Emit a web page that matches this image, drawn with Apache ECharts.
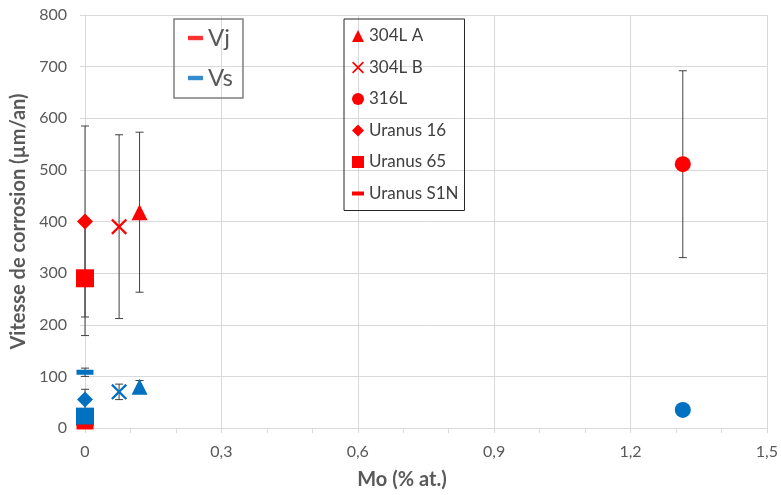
<!DOCTYPE html>
<html>
<head>
<meta charset="utf-8">
<script src="https://cdn.jsdelivr.net/npm/echarts@6/dist/echarts.min.js"></script>
<style>
html,body{margin:0;padding:0;background:#fff;}
#chart{width:781px;height:495px;}
</style>
</head>
<body>
<div id="chart"></div>
<script>
// ---- data ----
const materials = ['304L A', '304L B', '316L', 'Uranus 16', 'Uranus 65', 'Uranus S1N'];
const moContent = [0.12, 0.075, 1.315, 0, 0, 0];
const vj = [418, 390, 511, 400, 290, 2];
const vjErr = [155, 178, 181, 185, 111, 0];
const vs = [80, 70, 35, 55, 22, 108];
const vsErr = [12, 15, 0, 20, 5, 8];
const xTicks = [0, 0.3, 0.6, 0.9, 1.2, 1.5];
const yTicks = [0, 100, 200, 300, 400, 500, 600, 700, 800];

// ---- styles ----
const RED = '#FF0000', BLUE = '#0070C0';
const XPATH = 'path://M0,1.6L1.6,0L8,6.4L14.4,0L16,1.6L9.6,8L16,14.4L14.4,16L8,9.6L1.6,16L0,14.4L6.4,8Z';
const DASH = 'path://M0,0L17,0L17,5L0,5Z';
const symbols = ['triangle', XPATH, 'circle', 'diamond', 'rect', 'rect'];
const sizes = [16, 16, 16, 16, 18, [17, 5]];
const legendIcons = ['triangle', XPATH, 'circle', 'diamond', 'rect', 'path://M0,0L12,0L12,4L0,4Z'];
const FONT = 'Lato, "Open Sans", sans-serif';

const series = [];
// error bars
const errData = [];
materials.forEach((m, i) => {
  if (vjErr[i] > 0) errData.push([moContent[i], vj[i] - vjErr[i], vj[i] + vjErr[i]]);
  if (vsErr[i] > 0) errData.push([moContent[i], vs[i] - vsErr[i], vs[i] + vsErr[i]]);
});
series.push({
  type: 'custom',
  name: 'err',
  z: 1,
  silent: true,
  data: errData,
  encode: { x: 0, y: [1, 2] },
  renderItem: function (params, api) {
    const lo = api.coord([api.value(0), api.value(1)]);
    const hi = api.coord([api.value(0), api.value(2)]);
    const w = 4;
    const st = { stroke: '#404040', lineWidth: 1 };
    return {
      type: 'group',
      children: [
        { type: 'line', shape: { x1: lo[0], y1: lo[1], x2: hi[0], y2: hi[1] }, style: st },
        { type: 'line', shape: { x1: lo[0] - w, y1: lo[1], x2: lo[0] + w, y2: lo[1] }, style: st },
        { type: 'line', shape: { x1: hi[0] - w, y1: hi[1], x2: hi[0] + w, y2: hi[1] }, style: st }
      ]
    };
  }
});
// dummy series for Vj / Vs legend
series.push({ type: 'scatter', name: 'Vj', data: [], itemStyle: { color: RED } });
series.push({ type: 'scatter', name: 'Vs', data: [], itemStyle: { color: BLUE } });
// blue (Vs) points
materials.forEach((m, i) => {
  series.push({
    type: 'scatter', name: m + ' (Vs)', z: 3,
    symbol: symbols[i], symbolSize: sizes[i],
    itemStyle: { color: BLUE, opacity: 1 },
    data: [[moContent[i], vs[i]]]
  });
});
// red (Vj) points
materials.forEach((m, i) => {
  series.push({
    type: 'scatter', name: m, z: 4,
    symbol: symbols[i], symbolSize: sizes[i],
    itemStyle: { color: RED, opacity: 1 },
    data: [[moContent[i], vj[i]]]
  });
});

const gridColor = '#d9d9d9';
const option = {
  animation: false,
  backgroundColor: '#fff',
  textStyle: { fontFamily: FONT },
  grid: { left: 85, right: 13, top: 15, bottom: 67 },
  xAxis: {
    type: 'value', min: xTicks[0], max: xTicks[xTicks.length - 1], interval: 0.3,
    name: 'Mo (% at.)', nameLocation: 'middle', nameGap: 42,
    nameTextStyle: { fontSize: 20, fontWeight: 'bold', color: '#595959', fontFamily: FONT, padding: [0, 48, 0, 0] },
    axisLine: { show: true, lineStyle: { color: gridColor, width: 1 } },
    axisTick: { show: true, length: 5, lineStyle: { color: gridColor } },
    minorTick: { show: true, splitNumber: 3, length: 5, lineStyle: { color: gridColor } },
    splitLine: { show: true, lineStyle: { color: gridColor, width: 1 } },
    axisLabel: {
      color: '#595959', fontSize: 16, margin: 16, fontFamily: FONT,
      formatter: v => (Math.abs(v) < 1e-9 ? '0' : (Math.round(v * 10) / 10).toFixed(1).replace('.', ','))
    }
  },
  yAxis: {
    type: 'value', min: yTicks[0], max: yTicks[yTicks.length - 1], interval: 100,
    name: 'Vitesse de corrosion (µm/an)', nameLocation: 'middle', nameGap: 49,
    nameTextStyle: { fontSize: 20, fontWeight: 'bold', color: '#595959', fontFamily: FONT },
    axisLine: { show: true, lineStyle: { color: gridColor, width: 1 } },
    axisTick: { show: true, length: 5, lineStyle: { color: gridColor } },
    splitLine: { show: true, lineStyle: { color: gridColor, width: 1 } },
    axisLabel: { color: '#595959', fontSize: 16, margin: 18, fontFamily: FONT }
  },
  legend: [
    {
      left: 174, top: 19, orient: 'vertical',
      data: [{ name: 'Vj', icon: DASH }, { name: 'Vs', icon: DASH }],
      itemWidth: 15, itemHeight: 5, itemGap: 10, itemTextGap: 6,
      padding: [4, 10, 5, 14],
      borderColor: '#7f7f7f', borderWidth: 1.5,
      textStyle: { fontSize: 24, lineHeight: 30, color: '#595959', fontFamily: FONT },
      selectedMode: false
    },
    {
      left: 344, top: 19, orient: 'vertical',
      data: materials.map((m, i) => ({ name: m, icon: legendIcons[i] })),
      itemWidth: 12, itemHeight: 12, itemGap: 13.5, itemTextGap: 5,
      padding: [8, 6, 8, 8],
      borderColor: '#262626', borderWidth: 1,
      textStyle: { fontSize: 17, lineHeight: 18, color: '#404040', fontFamily: FONT },
      selectedMode: false
    }
  ],
  series: series
};
const chart = echarts.init(document.getElementById('chart'), null, { renderer: 'canvas' });
chart.setOption(option);
</script>
</body>
</html>
